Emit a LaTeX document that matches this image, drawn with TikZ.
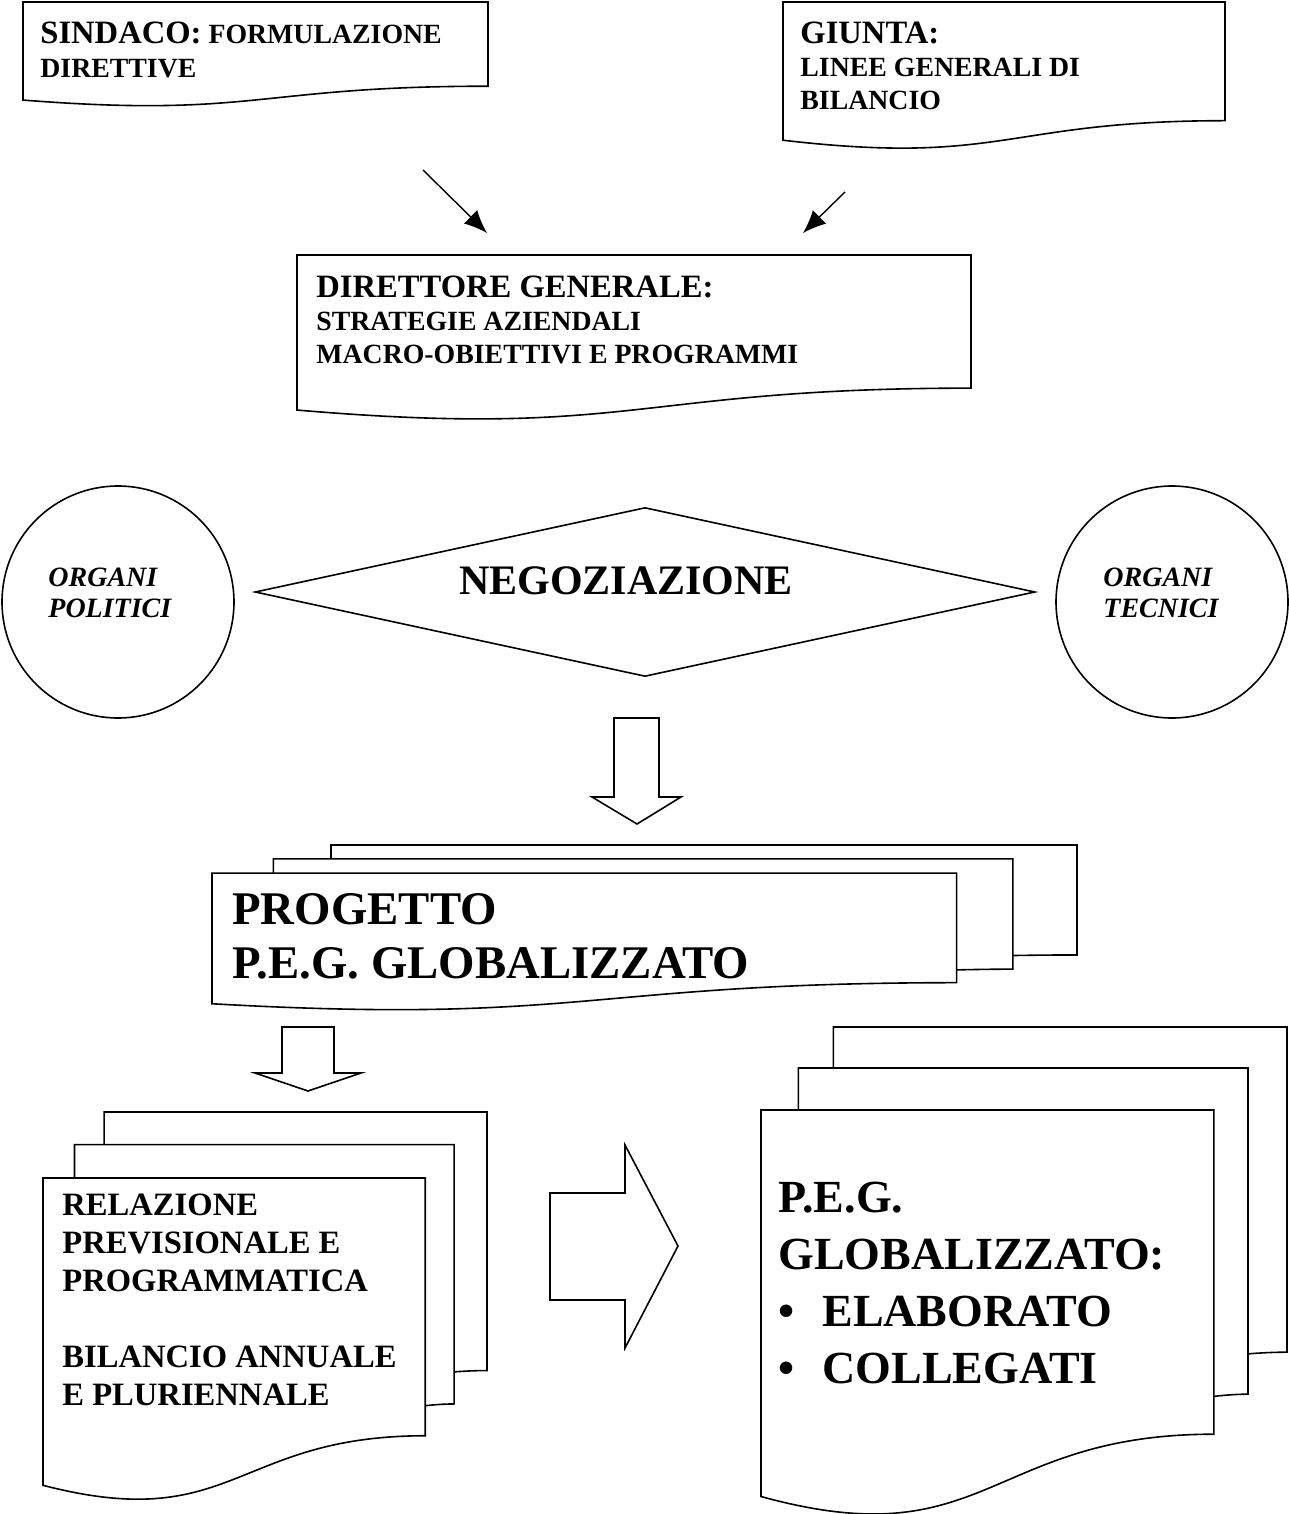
\documentclass[tikz,border=0pt]{standalone}
\usepackage{fontspec}
\setmainfont{Liberation Serif}
\usetikzlibrary{arrows.meta, shapes.geometric}

% document shape: left, top, width, height (picture units, y downwards)
\newcommand{\docbox}[4]{%
  \draw[shape line] (#1,#2) -- ({#1+#3},#2) -- ({#1+#3},{#2+0.802*#4})
    .. controls ({#1+0.5*#3},{#2+0.802*#4}) and ({#1+0.5*#3},{#2+1.1075*#4}) .. (#1,{#2+0.934*#4}) -- cycle;}

% stack of three documents: left, top, width, height
\newcommand{\multidocbox}[4]{%
  \draw[shape line] ({#1+0.1376*#3},{#2+0.0840*#4}) -- ({#1+0.1376*#3},#2) -- ({#1+#3},#2) -- ({#1+#3},{#2+0.6663*#4})
    .. controls ({#1+0.9630*#3},{#2+0.6663*#4}) and ({#1+0.9259*#3},{#2+0.6698*#4}) .. ({#1+0.9259*#3},{#2+0.6698*#4});
  \draw[shape line] ({#1+0.0709*#3},{#2+0.1701*#4}) -- ({#1+0.0709*#3},{#2+0.0840*#4}) -- ({#1+0.9259*#3},{#2+0.0840*#4}) -- ({#1+0.9259*#3},{#2+0.7524*#4})
    .. controls ({#1+0.8934*#3},{#2+0.7524*#4}) and ({#1+0.8609*#3},{#2+0.7570*#4}) .. ({#1+0.8609*#3},{#2+0.7570*#4});
  \draw[shape line] (#1,{#2+0.1701*#4}) -- ({#1+0.8609*#3},{#2+0.1701*#4}) -- ({#1+0.8609*#3},{#2+0.8344*#4})
    .. controls ({#1+0.4305*#3},{#2+0.8344*#4}) and ({#1+0.4305*#3},{#2+1.0899*#4}) .. (#1,{#2+0.9621*#4}) -- cycle;}

\tikzset{
  shape line/.style={line width=0.8pt, line join=miter},
  boxtext/.style={anchor=north west, inner sep=0pt, align=left, font=\bfseries},
  thin arrow/.style={line width=0.7pt, -{Latex[length=11.5pt, width=9.5pt]}},
}

\begin{document}
\begin{tikzpicture}[x=0.5pt, y=-0.5pt]
		\useasboundingbox (0,0) rectangle (1289,1514);

		% Boxes
		\docbox{23}{2}{465}{105}
		\docbox{783}{2}{442}{148}
		\docbox{297}{255}{674}{166}
		\multidocbox{212}{845}{865}{165}
		\multidocbox{43}{1112}{444}{388}
		\multidocbox{761}{1027}{526}{488}

		% Nodes
		\node (sindaco) [boxtext, font=\bfseries\fontsize{13.9}{17}\selectfont] at (40,22)
			{{\fontsize{16.3}{17}\selectfont SINDACO:} FORMULAZIONE\\DIRETTIVE};
		\node (giunta) [boxtext, font=\bfseries\fontsize{13.9}{16.5}\selectfont] at (800,22)
			{{\fontsize{16.3}{16.5}\selectfont GIUNTA:}\\LINEE GENERALI DI\\BILANCIO};
		\node (direttore) [boxtext, font=\bfseries\fontsize{13.9}{16.5}\selectfont] at (316,276)
			{{\fontsize{16.3}{16.5}\selectfont DIRETTORE GENERALE:}\\STRATEGIE AZIENDALI\\MACRO-OBIETTIVI E PROGRAMMI};

		\node (politici) [circle, draw, line width=0.8pt, minimum size=116pt, inner sep=0pt] at (118,602) {};
		\node (tecnici) [circle, draw, line width=0.8pt, minimum size=116pt, inner sep=0pt] at (1172,602) {};
		\node (politici txt) [boxtext, font=\bfseries\itshape\fontsize{14}{15.5}\selectfont] at (48,568) {ORGANI\\POLITICI};
		\node (tecnici txt) [boxtext, font=\bfseries\itshape\fontsize{14}{15.5}\selectfont] at (1103,568) {ORGANI\\TECNICI};

		\node (negoziazione) [diamond, draw, line width=0.8pt, minimum width=390pt, minimum height=84.5pt, inner sep=0pt] at (645,592) {};
		\node (negoziazione txt) [font=\bfseries\fontsize{21}{25}\selectfont, inner sep=0pt] at (626,581) {NEGOZIAZIONE};

		\node (progetto) [boxtext, font=\bfseries\fontsize{23.4}{27}\selectfont] at (232,893)
			{PROGETTO\\P.E.G. GLOBALIZZATO};
		\node (relazione) [boxtext, font=\bfseries\fontsize{16.3}{19}\selectfont] at (62,1193)
			{RELAZIONE\\PREVISIONALE E\\PROGRAMMATICA\\[19pt]BILANCIO ANNUALE\\E PLURIENNALE};
		\node (peg) [boxtext, font=\bfseries\fontsize{23}{28.5}\selectfont] at (778,1182)
			{P.E.G.\\GLOBALIZZATO:\\\makebox[22pt][l]{\textbullet}ELABORATO\\\makebox[22pt][l]{\textbullet}COLLEGATI};

		% Block arrows
		\draw[shape line] (614,718) -- (659,718) -- (659,797) -- (681,797) -- (637,824) -- (592,797) -- (614,797) -- cycle;
		\draw[shape line] (282,1027) -- (334,1027) -- (334,1073) -- (361,1073) -- (308,1091) -- (255,1073) -- (282,1073) -- cycle;
		\draw[shape line] (550,1193) -- (625,1193) -- (625,1145) -- (678,1246) -- (625,1348) -- (625,1300) -- (550,1300) -- cycle;

		% Arrows
		\coordinate (sindaco end) at (423,170);
		\coordinate (giunta end) at (845,192);
		\coordinate (direttore left) at (487,233);
		\coordinate (direttore right) at (803,233);
		\draw[thin arrow] (sindaco end) -- (direttore left);
		\draw[thin arrow] (giunta end) -- (direttore right);

	\end{tikzpicture}
\end{document}
